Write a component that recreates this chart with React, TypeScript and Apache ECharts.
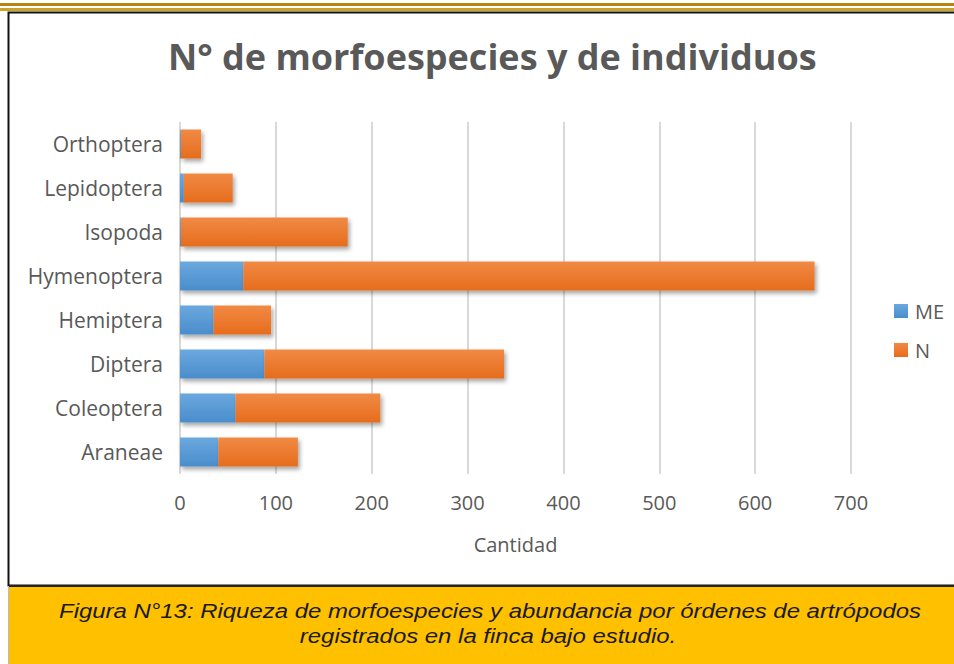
import React, { useEffect, useRef } from "react";
import * as echarts from "echarts";

const categories = ["Araneae", "Coleoptera", "Diptera", "Hemiptera", "Hymenoptera", "Isopoda", "Lepidoptera", "Orthoptera"];
const meValues = [40, 58, 88, 35, 66, 1, 4, 1];
const nValues = [83, 151, 250, 60, 596, 174, 51, 21];
const xTicks = [0, 100, 200, 300, 400, 500, 600, 700];
const titleText = "N° de morfoespecies y de individuos";
const captionLines = [
  "Figura N°13: Riqueza de morfoespecies y abundancia por órdenes de artrópodos",
  "registrados en la finca bajo estudio.",
];

export default function App() {
  const ref = useRef<HTMLDivElement>(null);
  useEffect(() => {
    document.body.style.margin = "0";
    const chart = echarts.init(ref.current!, undefined, { renderer: "svg" });
    const font = "'Open Sans', 'Noto Sans', sans-serif";
    const shadow = {
      shadowBlur: 4,
      shadowOffsetX: 2,
      shadowOffsetY: 3,
      shadowColor: "rgba(0,0,0,0.35)",
    };
    const captionStyle = {
      fontFamily: "'Liberation Sans', Arial, sans-serif",
      fontStyle: "italic",
      fontSize: 21,
      fill: "#1a1a1a",
      textAlign: "center",
      textVerticalAlign: "middle",
    };
    chart.setOption({
      animation: false,
      backgroundColor: "#ffffff",
      title: {
        text: titleText,
        left: 163,
        top: 33,
        textStyle: { fontFamily: font, fontSize: 36, fontWeight: "bold", color: "#595959" },
      },
      legend: {
        orient: "vertical",
        left: 889,
        top: 296,
        itemWidth: 14,
        itemHeight: 14,
        itemGap: 19,
        icon: "rect",
        textStyle: { fontFamily: font, fontSize: 20, color: "#595959", padding: [0, 0, 0, 2] },
        data: ["ME", "N"],
      },
      grid: { left: 180, top: 122, width: 671, height: 352 },
      xAxis: {
        type: "value",
        min: 0,
        max: 700,
        interval: 100,
        name: "Cantidad",
        nameLocation: "middle",
        nameGap: 60,
        nameTextStyle: { fontFamily: font, fontSize: 20, color: "#595959" },
        axisLine: { show: false },
        axisTick: { show: false },
        axisLabel: {
          fontFamily: font,
          fontSize: 20,
          color: "#595959",
          margin: 18,
          formatter: (v: number) => (xTicks.includes(v) ? String(v) : ""),
        },
        splitLine: { show: true, lineStyle: { color: "#d9d9d9", width: 2 } },
      },
      yAxis: {
        type: "category",
        data: categories,
        axisLine: { show: false },
        axisTick: { show: false },
        axisLabel: { fontFamily: font, fontSize: 21, color: "#595959", margin: 17 },
      },
      series: [
        {
          name: "ME",
          type: "bar",
          stack: "t",
          data: meValues,
          barWidth: 29,
          itemStyle: {
            color: new echarts.graphic.LinearGradient(0, 0, 0, 1, [
              { offset: 0, color: "#6ba8de" },
              { offset: 1, color: "#4a8dcc" },
            ]),
            ...shadow,
          },
        },
        {
          name: "N",
          type: "bar",
          stack: "t",
          data: nValues,
          barWidth: 29,
          itemStyle: {
            color: new echarts.graphic.LinearGradient(0, 0, 0, 1, [
              { offset: 0, color: "#f18a45" },
              { offset: 1, color: "#e66c1c" },
            ]),
            ...shadow,
          },
        },
      ],
      graphic: [
        { type: "rect", shape: { x: 0, y: 3, width: 954, height: 3 }, style: { fill: "#b8860b" }, silent: true },
        { type: "rect", shape: { x: 0, y: 8, width: 954, height: 3 }, style: { fill: "#c9a227" }, silent: true },
        { type: "rect", shape: { x: 8.5, y: 12.5, width: 960, height: 573 }, style: { fill: "none", stroke: "#111111", lineWidth: 2 }, silent: true },
        { type: "rect", shape: { x: 9, y: 586, width: 945, height: 78 }, style: { fill: "#ffc000" }, silent: true },
        { type: "line", shape: { x1: 9, y1: 586, x2: 954, y2: 586 }, style: { stroke: "#222222", lineWidth: 2 }, silent: true },
        { type: "line", shape: { x1: 8.5, y1: 586, x2: 8.5, y2: 664 }, style: { stroke: "#bbbbbb", lineWidth: 1 }, silent: true },
        {
          type: "text",
          x: 490,
          y: 611,
          scaleX: 1.14,
          style: { text: captionLines[0], ...captionStyle },
          silent: true,
        },
        {
          type: "text",
          x: 488,
          y: 636,
          scaleX: 1.14,
          style: { text: captionLines[1], ...captionStyle },
          silent: true,
        },
      ],
    });
    return () => chart.dispose();
  }, []);
  return <div ref={ref} style={{ position: "fixed", left: 0, top: 0, width: 954, height: 664 }} />;
}
